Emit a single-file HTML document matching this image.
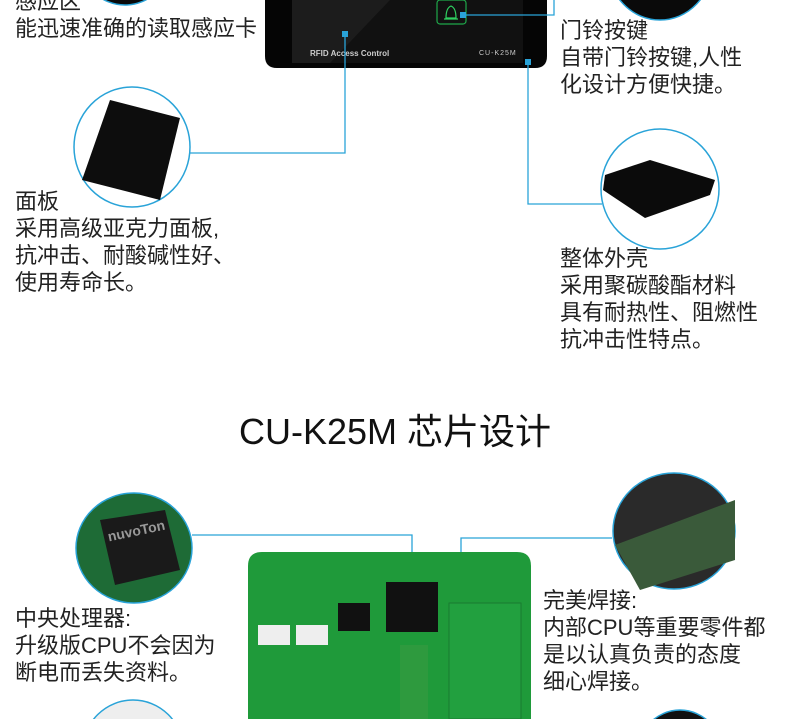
<!DOCTYPE html>
<html><head><meta charset="utf-8"><style>
html,body{margin:0;width:790px;height:719px;overflow:hidden;}
body{background:#fff;position:relative;font-family:"Liberation Sans","Noto Sans CJK SC",sans-serif;}
.t{position:absolute;font-size:22px;line-height:27px;color:#222;white-space:nowrap;}
.a{position:absolute;}
</style></head><body>
<svg class="a" style="left:0;top:0" width="790" height="719">
<ellipse cx="125" cy="-40" rx="45" ry="45" fill="#0a0a0a" stroke="#29a3d8" stroke-width="1.5"/>
<ellipse cx="660" cy="-35" rx="52" ry="55" fill="#0a0a0a" stroke="#29a3d8" stroke-width="1.5"/>
<path d="M265 0 H547 V56 Q547 68 535 68 H277 Q265 68 265 56 Z" fill="#050505"/>
<rect x="292" y="0" width="231" height="63" fill="#111"/>
<path d="M292 0 H390 L330 63 H292 Z" fill="#1c1c1c"/>
<rect x="437" y="0" width="29" height="24" rx="3" fill="none" stroke="#1fa84a" stroke-width="1.2"/>
<path d="M446 18 Q446 8 451 6 Q456 8 456 18 Z M444 19 H458" stroke="#2fd060" fill="none" stroke-width="1.2"/>
<text x="310" y="56" font-family="Liberation Sans" font-size="8" font-weight="bold" fill="#ccc">RFID Access Control</text>
<text x="479" y="55" font-family="Liberation Sans" font-size="7" fill="#ccc" letter-spacing="1">CU-K25M</text>
<g stroke="#29a3d8" stroke-width="1.3" fill="none">
<path d="M463 15 H554 V0"/>
<path d="M190 153 H345 V34"/>
<path d="M528 62 V204 H602"/>
<path d="M192 535 H412 V607"/>
<path d="M612 538 H461 V597"/>
<path d="M312 640 V719 M348 622 V719 M373 640 V719"/>
</g>
<g fill="#29a3d8">
<rect x="342" y="31" width="6" height="6"/><rect x="525" y="59" width="6" height="6"/><rect x="460" y="12" width="6" height="6"/>
<rect x="409" y="604" width="6" height="6"/><rect x="309" y="637" width="6" height="6"/><rect x="345" y="619" width="6" height="6"/><rect x="370" y="637" width="6" height="6"/>
</g>
<ellipse cx="132" cy="147" rx="58" ry="60" fill="#fff" stroke="#29a3d8" stroke-width="1.5"/>
<path d="M110 100 L180 118 L160 200 L82 180 Z" fill="#0d0d0d"/>
<ellipse cx="660" cy="189" rx="59" ry="60" fill="#fff" stroke="#29a3d8" stroke-width="1.5"/>
<path d="M605 175 L650 160 L715 180 L710 195 L645 218 L603 190 Z" fill="#0b0b0b"/>
<ellipse cx="134" cy="548" rx="58" ry="55" fill="#1e6b36" stroke="#29a3d8" stroke-width="1.5"/>
<path d="M100 520 L165 510 L180 570 L115 585 Z" fill="#1a1a1a"/>
<text x="108" y="537" font-size="14" font-weight="bold" fill="#999" transform="rotate(-12 130 535)">nuvoTon</text>
<ellipse cx="674" cy="531" rx="61" ry="58" fill="#2a2a2a" stroke="#29a3d8" stroke-width="1.5"/>
<path d="M615 545 L735 500 L735 560 L640 590 Z" fill="#3a5a3a"/>
<path d="M248 719 V566 Q248 552 262 552 H517 Q531 552 531 566 V719 Z" fill="#1f9a3a"/>
<rect x="386" y="582" width="52" height="50" fill="#111"/>
<rect x="449" y="603" width="72" height="116" fill="#22a03f" stroke="#1a7a30"/>
<rect x="400" y="645" width="28" height="74" fill="#2e9a3e"/>
<rect x="258" y="625" width="32" height="20" fill="#eee"/><rect x="296" y="625" width="32" height="20" fill="#eee"/>
<rect x="338" y="603" width="32" height="28" fill="#111"/>
<ellipse cx="133" cy="750" rx="50" ry="50" fill="#eee" stroke="#29a3d8" stroke-width="1.5"/>
<ellipse cx="680" cy="760" rx="45" ry="50" fill="#111" stroke="#29a3d8" stroke-width="1.5"/>
</svg>
<div class="t" style="left:15px;top:-12px">感应区<br>能迅速准确的读取感应卡</div>
<div class="t" style="left:560px;top:17px">门铃按键<br>自带门铃按键,人性<br>化设计方便快捷。</div>
<div class="t" style="left:15px;top:188px">面板<br>采用高级亚克力面板,<br>抗冲击、耐酸碱性好、<br>使用寿命长。</div>
<div class="t" style="left:560px;top:245px">整体外壳<br>采用聚碳酸酯材料<br>具有耐热性、阻燃性<br>抗冲击性特点。</div>
<div class="t" style="left:0;width:790px;text-align:center;top:410px;font-size:36px;line-height:44px;color:#111">CU-K25M 芯片设计</div>
<div class="t" style="left:15px;top:605px">中央处理器:<br>升级版CPU不会因为<br>断电而丢失资料。</div>
<div class="t" style="left:543px;top:587px">完美焊接:<br>内部CPU等重要零件都<br>是以认真负责的态度<br>细心焊接。</div>
</body></html>
